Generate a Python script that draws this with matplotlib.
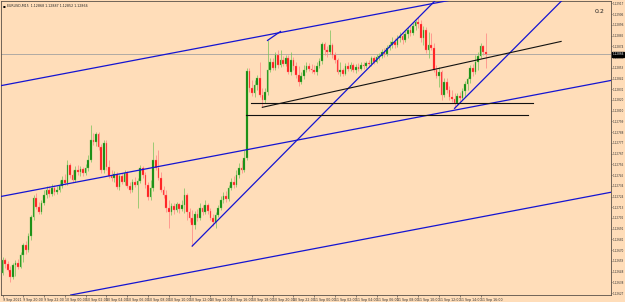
import matplotlib
matplotlib.use("Agg")
import matplotlib.pyplot as plt
import matplotlib.transforms as mtransforms
import numpy as np
import pandas as pd

# ---- chart data (EURUSD M15, prices) ----
symbol = "EURUSD,M15"
start_time = "2021-09-09 18:00"
first_open = 1.12647

close = [1.12660, 1.12656, 1.12650, 1.12643, 1.12655, 1.12657, 1.12653, 1.12665, 1.12675, 1.12670,
         1.12684, 1.12703, 1.12722, 1.12713, 1.12708, 1.12717, 1.12725, 1.12730, 1.12726, 1.12732,
         1.12728, 1.12730, 1.12734, 1.12740, 1.12737, 1.12755, 1.12745, 1.12740, 1.12750, 1.12748,
         1.12751, 1.12747, 1.12752, 1.12760, 1.12780, 1.12778, 1.12786, 1.12773, 1.12750, 1.12777,
         1.12753, 1.12744, 1.12742, 1.12746, 1.12733, 1.12744, 1.12738, 1.12747, 1.12734, 1.12730,
         1.12738, 1.12735, 1.12739, 1.12752, 1.12745, 1.12735, 1.12723, 1.12732, 1.12760, 1.12752,
         1.12742, 1.12730, 1.12725, 1.12712, 1.12708, 1.12714, 1.12710, 1.12716, 1.12711, 1.12715,
         1.12725, 1.12708, 1.12702, 1.12695, 1.12706, 1.12702, 1.12712, 1.12708, 1.12715, 1.12709,
         1.12702, 1.12698, 1.12705, 1.12712, 1.12720, 1.12724, 1.12721, 1.12732, 1.12738, 1.12735,
         1.12745, 1.12752, 1.12750, 1.12762, 1.12849, 1.12832, 1.12827, 1.12835, 1.12842, 1.12825,
         1.12820, 1.12828, 1.12850, 1.12858, 1.12852, 1.12865, 1.12855, 1.12860, 1.12856, 1.12862,
         1.12848, 1.12860, 1.12854, 1.12845, 1.12838, 1.12844, 1.12850, 1.12854, 1.12851, 1.12850,
         1.12848, 1.12854, 1.12859, 1.12876, 1.12870, 1.12868, 1.12875, 1.12865, 1.12860, 1.12848,
         1.12850, 1.12846, 1.12854, 1.12851, 1.12855, 1.12850, 1.12853, 1.12851, 1.12855, 1.12854,
         1.12857, 1.12856, 1.12862, 1.12858, 1.12863, 1.12864, 1.12868, 1.12866, 1.12872, 1.12875,
         1.12878, 1.12875, 1.12882, 1.12884, 1.12880, 1.12886, 1.12890, 1.12887, 1.12894, 1.12898,
         1.12896, 1.12882, 1.12890, 1.12870, 1.12875, 1.12872, 1.12850, 1.12844, 1.12848, 1.12825,
         1.12838, 1.12830, 1.12823, 1.12821, 1.12817, 1.12824, 1.12822, 1.12829, 1.12836, 1.12841,
         1.12852, 1.12848, 1.12858, 1.12864, 1.12874, 1.12868, 1.12866]

high = [1.12663, 1.12662, 1.12659, 1.12654, 1.12657, 1.12660, 1.12661, 1.12668, 1.12677, 1.12679,
        1.12687, 1.12705, 1.12725, 1.12727, 1.12718, 1.12720, 1.12730, 1.12734, 1.12734, 1.12736,
        1.12735, 1.12734, 1.12740, 1.12744, 1.12746, 1.12760, 1.12757, 1.12750, 1.12754, 1.12755,
        1.12754, 1.12753, 1.12756, 1.12765, 1.12795, 1.12787, 1.12788, 1.12788, 1.12776, 1.12780,
        1.12780, 1.12760, 1.12750, 1.12749, 1.12748, 1.12746, 1.12747, 1.12750, 1.12749, 1.12738,
        1.12741, 1.12743, 1.12742, 1.12755, 1.12754, 1.12748, 1.12738, 1.12740, 1.12778, 1.12765,
        1.12770, 1.12748, 1.12734, 1.12730, 1.12720, 1.12717, 1.12717, 1.12718, 1.12717, 1.12720,
        1.12732, 1.12727, 1.12712, 1.12710, 1.12709, 1.12711, 1.12717, 1.12715, 1.12720, 1.12717,
        1.12712, 1.12706, 1.12708, 1.12715, 1.12724, 1.12728, 1.12729, 1.12735, 1.12742, 1.12744,
        1.12750, 1.12757, 1.12760, 1.12770, 1.12852, 1.12852, 1.12840, 1.12840, 1.12845, 1.12858,
        1.12832, 1.12832, 1.12880, 1.12862, 1.12862, 1.12868, 1.12870, 1.12870, 1.12864, 1.12865,
        1.12865, 1.12868, 1.12863, 1.12858, 1.12854, 1.12848, 1.12855, 1.12858, 1.12857, 1.12856,
        1.12855, 1.12858, 1.12862, 1.12878, 1.12878, 1.12874, 1.12890, 1.12877, 1.12868, 1.12862,
        1.12858, 1.12852, 1.12857, 1.12858, 1.12858, 1.12857, 1.12856, 1.12857, 1.12858, 1.12858,
        1.12859, 1.12860, 1.12864, 1.12864, 1.12866, 1.12867, 1.12871, 1.12872, 1.12875, 1.12879,
        1.12883, 1.12882, 1.12885, 1.12888, 1.12887, 1.12889, 1.12893, 1.12894, 1.12897, 1.12900,
        1.12903, 1.12900, 1.12894, 1.12893, 1.12888, 1.12887, 1.12877, 1.12855, 1.12853, 1.12850,
        1.12842, 1.12842, 1.12834, 1.12830, 1.12827, 1.12827, 1.12828, 1.12832, 1.12839, 1.12843,
        1.12855, 1.12856, 1.12865, 1.12868, 1.12877, 1.12875, 1.12887]

low = [1.12645, 1.12652, 1.12649, 1.12638, 1.12641, 1.12644, 1.12651, 1.12652, 1.12658, 1.12666,
       1.12668, 1.12680, 1.12700, 1.12711, 1.12706, 1.12706, 1.12715, 1.12722, 1.12723, 1.12724,
       1.12725, 1.12726, 1.12728, 1.12732, 1.12735, 1.12735, 1.12742, 1.12738, 1.12738, 1.12745,
       1.12744, 1.12744, 1.12745, 1.12749, 1.12758, 1.12775, 1.12774, 1.12770, 1.12747, 1.12747,
       1.12750, 1.12742, 1.12739, 1.12738, 1.12731, 1.12730, 1.12736, 1.12735, 1.12732, 1.12727,
       1.12728, 1.12733, 1.12712, 1.12737, 1.12742, 1.12732, 1.12720, 1.12720, 1.12729, 1.12750,
       1.12740, 1.12728, 1.12722, 1.12708, 1.12692, 1.12705, 1.12706, 1.12708, 1.12707, 1.12709,
       1.12707, 1.12700, 1.12698, 1.12674, 1.12691, 1.12699, 1.12700, 1.12705, 1.12706, 1.12706,
       1.12700, 1.12694, 1.12692, 1.12703, 1.12710, 1.12717, 1.12718, 1.12719, 1.12730, 1.12732,
       1.12733, 1.12742, 1.12747, 1.12748, 1.12760, 1.12828, 1.12824, 1.12823, 1.12830, 1.12823,
       1.12813, 1.12817, 1.12825, 1.12848, 1.12850, 1.12850, 1.12852, 1.12853, 1.12854, 1.12854,
       1.12846, 1.12845, 1.12850, 1.12842, 1.12834, 1.12836, 1.12841, 1.12848, 1.12849, 1.12847,
       1.12846, 1.12845, 1.12852, 1.12856, 1.12865, 1.12863, 1.12866, 1.12862, 1.12857, 1.12846,
       1.12844, 1.12844, 1.12845, 1.12849, 1.12849, 1.12848, 1.12847, 1.12849, 1.12850, 1.12851,
       1.12852, 1.12853, 1.12854, 1.12856, 1.12857, 1.12860, 1.12862, 1.12863, 1.12864, 1.12870,
       1.12872, 1.12872, 1.12873, 1.12878, 1.12876, 1.12878, 1.12882, 1.12884, 1.12885, 1.12890,
       1.12892, 1.12878, 1.12875, 1.12867, 1.12862, 1.12870, 1.12848, 1.12842, 1.12833, 1.12820,
       1.12823, 1.12827, 1.12820, 1.12818, 1.12812, 1.12815, 1.12819, 1.12820, 1.12823, 1.12830,
       1.12837, 1.12844, 1.12846, 1.12850, 1.12862, 1.12865, 1.12852]

# hand drawn objects, anchors as (bar index, price)
channel_upper = [(0, 1.12835), (200, 1.12934)]
channel_mid = [(0, 1.12724), (200, 1.12823)]
channel_low = [(0, 1.12612), (200, 1.12711)]
steep_left = [(73, 1.12674), (170, 1.12929)]
short_blue = [(102, 1.12880), (107, 1.12889)]
steep_right = [(174, 1.12812), (218, 1.12927)]
black_rising = [(100, 1.12813), (215, 1.12879)]
black_flat_1 = [(95.8, 1.12817), (204.2, 1.12817)]
black_flat_2 = [(93.8, 1.128055), (202.3, 1.128055)]
corner_text = "0.2"

bg = "#FFDDB9"
bull, bull_wick = "#0b870b", "#74c25a"
bear, bear_wick = "#ff1414", "#ff8080"
blue = "#1414d2"

fig = plt.figure(figsize=(6.25, 3.02), dpi=100, facecolor=bg)
ax = fig.add_axes([0.5 / 625, 7 / 302, 610.5 / 625, 294.5 / 302])
ax.set_facecolor(bg)

n = len(close)
opens = [first_open] + close[:-1]
idx = np.arange(n)

for i in range(n):
    o, c = opens[i], close[i]
    up = c >= o
    ax.vlines(i, low[i], high[i], color=bull_wick if up else bear_wick, lw=0.5, zorder=3)
    ax.bar(i, max(abs(c - o), 0.000006), bottom=min(o, c), width=0.62,
           color=bull if up else bear, edgecolor=bull_wick if up else bear_wick,
           linewidth=0.25, zorder=4)

# trend lines
for line in (channel_upper, channel_mid, channel_low):
    ax.axline(line[0], line[1], color=blue, lw=0.9, zorder=5)
for line in (steep_left, short_blue, steep_right):
    ax.plot(*zip(*line), color=blue, lw=0.9, zorder=5)
for line in (black_rising, black_flat_1, black_flat_2):
    ax.plot(*zip(*line), color="#111111", lw=0.8, zorder=5)

# bid line
ax.axhline(close[-1], color="#b0aaa4", lw=0.7, zorder=2)

ax.set_xlim(-0.77, 234.2)
ax.set_ylim(1.12625, 1.12920)

# price scale on the right
ax.yaxis.tick_right()
yt = np.linspace(1.12917, 1.12627, 28)
ax.set_yticks(yt)
ax.set_yticklabels([f"{v:.5f}" for v in yt])
ax.tick_params(axis="y", labelsize=1.95, length=1.0, width=0.4, pad=0.3, colors="#333333")

# time scale
times = pd.date_range(start_time, periods=n, freq="15min")
xt = idx[::8]
xlabels = [f"{t.day} {t:%b %H:%M}" for t in times[::8]]
xlabels[0] = f"{times[0].day} {times[0]:%b %Y}"
ax.set_xticks(xt)
ax.set_xticklabels(xlabels, ha="left")
ax.tick_params(axis="x", labelsize=2.3, length=1.5, width=0.4, pad=0.5, colors="#333333")

for s in ax.spines.values():
    s.set_color("#5a5048")
    s.set_linewidth(0.6)

# current price box
tr = mtransforms.blended_transform_factory(ax.transAxes, ax.transData)
ax.text(1.0025, close[-1], f"{close[-1]:.5f}", transform=tr, ha="left", va="center",
        fontsize=1.95, color="white",
        bbox=dict(facecolor="black", edgecolor="black", pad=0.3), clip_on=False, zorder=10)

# header
ax.text(0.004, 0.988, "\u25aa", transform=ax.transAxes, fontsize=3, va="top", color="black")
ax.text(0.011, 0.988,
        f"{symbol}  {opens[-1]:.5f} {high[-1]:.5f} {low[-1]:.5f} {close[-1]:.5f}",
        transform=ax.transAxes, fontsize=2.3, va="top", color="#222222")
ax.text(0.982, 0.963, corner_text, transform=ax.transAxes, fontsize=4.5,
        ha="center", va="center", color="#222222")

plt.savefig("out.png", dpi=100, facecolor=bg)
